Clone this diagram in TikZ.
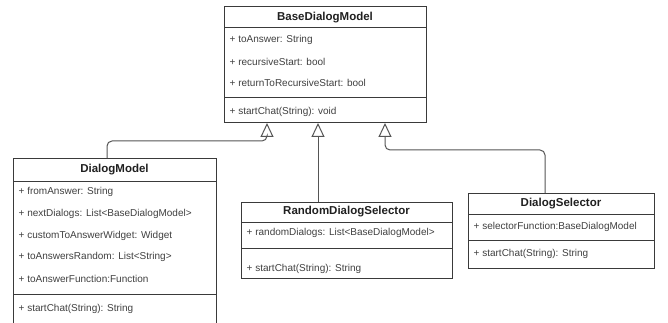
\documentclass[tikz,border=0pt]{standalone}
\usepackage{fontspec}
\setmainfont{Liberation Sans}
\usetikzlibrary{arrows.meta,calc}
\definecolor{boxc}{HTML}{3A3A3A}
\definecolor{linec}{HTML}{555555}
\definecolor{txtc}{HTML}{404040}
\definecolor{headc}{HTML}{202020}
\begin{document}
\begin{tikzpicture}[x=1pt,y=-1pt,
  classbox/.style={draw=boxc, line width=1pt, fill=white, anchor=north west, inner sep=0pt, outer sep=0pt},
  attr/.style={anchor=west, font=\fontsize{10}{12}\selectfont, text=txtc, inner sep=0pt},
  head/.style={anchor=center, font=\bfseries\fontsize{11.5}{13}\selectfont, text=headc, inner sep=0pt},
  sepline/.style={draw=boxc, line width=1pt},
  inh/.style={draw=linec, line width=1pt, rounded corners=5pt, -{Triangle[open,length=14pt,width=13pt]}}]
\clip (0,0) rectangle (668,323);
\fill[white] (0,0) rectangle (668,323);

% BaseDialogModel
\node[classbox, minimum width=202pt, minimum height=116pt] (base) at (224,7) {};
\draw[sepline] (224,28) -- (426,28);
\draw[sepline] (224,98) -- (426,98);
\node[head] (baseh) at (325,17.5) {BaseDialogModel};
\node[attr] (b1) at (229.5,40) {+ toAnswer: String};
\node[attr] (b2) at (229.5,62) {+ recursiveStart: bool};
\node[attr] (b3) at (229.5,83) {+ returnToRecursiveStart: bool};
\node[attr] (b4) at (229.5,112) {+ startChat(String): void};

% DialogModel
\node[classbox, minimum width=203pt, minimum height=172pt] (dm) at (13,158) {};
\draw[sepline] (13,181) -- (216,181);
\draw[sepline] (13,294) -- (216,294);
\node[head] (dmh) at (114.5,169.5) {DialogModel};
\node[attr] (d1) at (18.5,192) {+ fromAnswer: String};
\node[attr] (d2) at (18.5,214) {+ nextDialogs: List<BaseDialogModel>};
\node[attr] (d3) at (18.5,236) {+ customToAnswerWidget: Widget};
\node[attr] (d4) at (18.5,257) {+ toAnswersRandom: List<String>};
\node[attr] (d5) at (18.5,279) {+ toAnswerFunction:Function};
\node[attr] (d6) at (18.5,309) {+ startChat(String): String};

% RandomDialogSelector
\node[classbox, minimum width=211pt, minimum height=76pt] (rds) at (241,202) {};
\draw[sepline] (241,222) -- (452,222);
\draw[sepline] (241,248) -- (452,248);
\node[head] (rdsh) at (346.5,212) {RandomDialogSelector};
\node[attr] (r1) at (246.5,233) {+ randomDialogs: List<BaseDialogModel>};
\node[attr] (r2) at (246.5,269) {+ startChat(String): String};

% DialogSelector
\node[classbox, minimum width=186pt, minimum height=75pt] (ds) at (468,193) {};
\draw[sepline] (468,214) -- (654,214);
\draw[sepline] (468,240) -- (654,240);
\node[head] (dsh) at (561,204) {DialogSelector};
\node[attr] (s1) at (473.5,227) {+ selectorFunction:BaseDialogModel};
\node[attr] (s2) at (473.5,254) {+ startChat(String): String};

% inheritance connectors
\draw[inh] ([xshift=94pt]dm.north west) -- ++(0,-17) -| ([xshift=43pt]base.south west);
\draw[inh] ([xshift=77pt]rds.north west) -- ([xshift=94pt]base.south west);
\draw[inh] ([xshift=77pt]ds.north west) -- ++(0,-43) -| ([xshift=161pt]base.south west);
\end{tikzpicture}
\end{document}
